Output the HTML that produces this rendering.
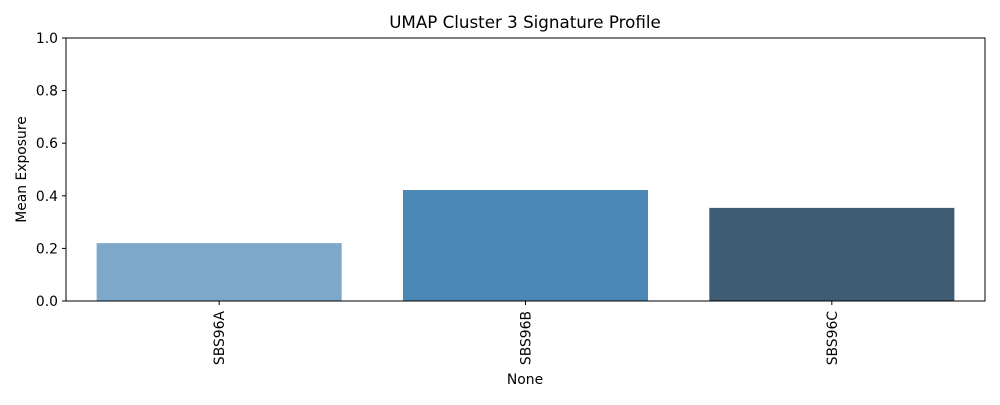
<!DOCTYPE html>
<html><head><meta charset="utf-8"><style>
body{margin:0;background:#fff;}
svg text{font-family:"DejaVu Sans","Liberation Sans",sans-serif;fill:#000;}
</style></head><body>
<svg id="chart" width="1000" height="400">
<text x="525" y="28" font-size="16.7" text-anchor="middle">UMAP Cluster 3 Signature Profile</text>
<g id="yaxis"></g>
<g id="bars"></g>
<g id="xaxis"></g>
<rect x="66" y="38" width="919" height="263" fill="none" stroke="#000" stroke-width="1"/>
<text x="525" y="384" font-size="13.9" text-anchor="middle">None</text>
<text transform="translate(26,169.5) rotate(-90)" font-size="13.9" text-anchor="middle">Mean Exposure</text>
</svg>
<script>
const categories=["SBS96A","SBS96B","SBS96C"];
const values=[0.22,0.422,0.354];
const colors=["#7da8c9","#4a87b4","#3e5c74"];
const yTicks=[0,0.2,0.4,0.6,0.8,1.0];
const yTickLabels=["0.0","0.2","0.4","0.6","0.8","1.0"];
const NS="http://www.w3.org/2000/svg";
const L=66,R=985,T=38,B=301;
const y=v=>B-(v/1)*(B-T);
const slot=(R-L)/categories.length;
const xc=i=>L+slot*(i+0.5);
function mk(tag,attrs,parent){const e=document.createElementNS(NS,tag);for(const k in attrs)e.setAttribute(k,attrs[k]);parent.appendChild(e);return e;}
const ya=document.getElementById('yaxis'),ba=document.getElementById('bars'),xa=document.getElementById('xaxis');
yTicks.forEach((t,i)=>{
 const l=mk('line',{x1:L-4,x2:L,y1:y(t),y2:y(t),stroke:'#000'},ya);
 
 
 const tx=mk('text',{x:L-8,y:y(t)+5,'font-size':13.9,'text-anchor':'end'},ya);
 tx.textContent=yTickLabels[i];
 
 
});
categories.forEach((c,i)=>{
 const w=slot*0.8;
 const r=mk('rect',{x:xc(i)-w/2,y:y(values[i]),width:w,height:B-y(values[i]),fill:colors[i]},ba);
 
 
 const l=mk('line',{x1:xc(i),x2:xc(i),y1:B,y2:B+4,stroke:'#000'},xa);
 
 
 const tx=mk('text',{transform:`translate(${xc(i)+5},${B+10}) rotate(-90)`,'font-size':13.9,'text-anchor':'end'},xa);
 tx.textContent=c;
 
 
});
</script>
</body></html>
